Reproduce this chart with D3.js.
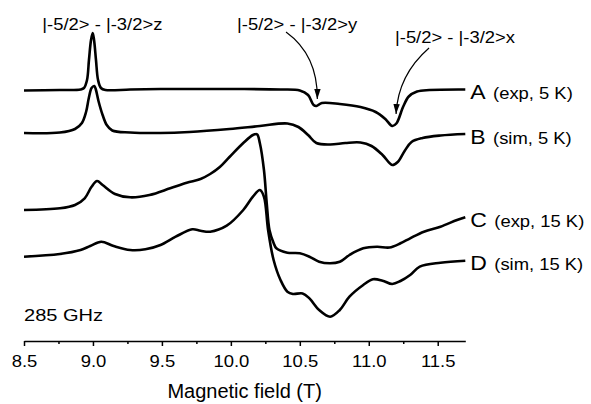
<!DOCTYPE html>
<html>
<head>
<meta charset="utf-8">
<script src="https://cdn.jsdelivr.net/npm/d3@7"></script>
<style>
  body { margin: 0; background: #fff; }
  text { font-family: "Liberation Sans", Arial, Helvetica, sans-serif; fill: #000; }
</style>
</head>
<body>
<svg id="chart" width="591" height="404"></svg>
<script>
// spectra: [field (T), signal (a.u.)], signal relative to each trace's own baseline
var specA = [[8.50,0],[8.76,0.05],[8.91,0.1],[8.935,0.25],[8.957,1.05],[8.971,3.05],[8.986,5.05],[8.998,5.75],
  [9.008,5.05],[9.022,3.05],[9.037,1.05],[9.058,0.25],[9.09,0.05],[9.27,0.1],[9.49,0.15],[9.78,0.15],[10.07,0.15],
  [10.36,0.1],[10.50,0],[10.56,-0.45],[10.60,-1.45],[10.62,-1.55],[10.66,-1.25],[10.79,-1.35],[10.94,-1.65],
  [11.05,-2.15],[11.12,-2.85],[11.17,-3.55],[11.20,-3.3],[11.25,-1.6],[11.29,-0.6],[11.35,-0.1],[11.44,0.05],[11.70,0.1]];

var specB = [[8.50,0],[8.76,0.05],[8.87,0.4],[8.92,1.0],[8.95,2.1],[8.97,3.5],[8.99,4.5],[9.01,4.7],[9.02,4.4],
  [9.04,3.2],[9.07,1.8],[9.10,0.8],[9.14,0.25],[9.27,0.05],[9.49,0],[9.70,0.1],[9.99,0.4],[10.21,0.7],[10.41,0.95],
  [10.49,0.6],[10.56,-0.2],[10.62,-1.0],[10.72,-1.15],[10.83,-1.0],[10.94,-0.95],[11.02,-1.3],[11.10,-2.2],
  [11.17,-3.2],[11.21,-2.9],[11.26,-1.8],[11.31,-0.9],[11.39,-0.5],[11.52,-0.25],[11.70,-0.1]];

var specC = [[8.50,0],[8.76,0.17],[8.87,0.5],[8.94,1.17],[8.99,2.33],[9.03,2.9],[9.07,2.5],[9.16,1.6],[9.27,1.27],
  [9.41,1.5],[9.56,2.17],[9.68,2.73],[9.78,3.1],[9.85,3.6],[9.92,4.3],[9.99,5.3],[10.09,6.7],[10.16,7.5],[10.19,7.57],
  [10.21,6.7],[10.24,4.0],[10.26,0.7],[10.28,-2.0],[10.31,-3.3],[10.33,-3.83],[10.41,-4.27],[10.50,-4.33],
  [10.57,-4.67],[10.64,-5.17],[10.72,-5.33],[10.79,-5.17],[10.86,-4.5],[10.96,-3.83],[11.06,-3.67],[11.15,-3.75],
  [11.23,-3.33],[11.30,-2.83],[11.40,-2.17],[11.52,-1.67],[11.64,-1.0],[11.70,-0.73]];

var specD = [[8.50,0],[8.76,0.27],[8.91,0.67],[8.98,1.07],[9.06,1.5],[9.15,1.07],[9.27,0.67],[9.38,0.74],[9.49,1.17],
  [9.60,2.0],[9.72,2.74],[9.78,2.6],[9.85,2.5],[9.97,3.1],[10.09,4.67],[10.16,6.0],[10.21,6.67],[10.24,6.0],
  [10.27,2.67],[10.31,-0.33],[10.36,-2.33],[10.41,-3.5],[10.45,-3.73],[10.52,-3.67],[10.57,-4.17],[10.64,-5.33],
  [10.72,-6.0],[10.79,-5.33],[10.86,-4.0],[10.96,-2.83],[11.03,-2.26],[11.10,-2.4],[11.17,-2.73],[11.23,-2.43],
  [11.30,-1.83],[11.37,-1.0],[11.52,-0.6],[11.70,-0.4]];

var seriesNames = ["A", "B", "C", "D"];
var seriesNotes = ["(exp, 5 K)", "(sim, 5 K)", "(exp, 15 K)", "(sim, 15 K)"];
var seriesOffsets = [24.95, 20.7, 13.0, 8.33];
var spectra = [specA, specB, specC, specD];

var majorTicks = [8.5, 9.0, 9.5, 10.0, 10.5, 11.0, 11.5];
var minorTicks = [8.75, 9.25, 9.75, 10.25, 10.75, 11.25];

// transition labels: text, text anchor [field, y], arrow [start, control, tip] or null
var transLabels = ["|-5/2> - |-3/2>z", "|-5/2> - |-3/2>y", "|-5/2> - |-3/2>x"];
var transAnchors = [[8.633, 31.0], [10.045, 31.0], [11.19, 29.7]];
var transArrows = [null,
  [[10.40, 30.8], [10.63, 28.5], [10.627, 24.1]],
  [[11.437, 29.2], [11.212, 26.5], [11.198, 22.6]]];

var svg = d3.select("#chart");

var x = d3.scaleLinear()
    .domain([8.5, 11.7])
    .range([24, 465.3]);

var y = d3.scaleLinear()
    .domain([0, 34])
    .range([340, 0]);

function stretched(sel, px, py, str, size, sx) {
  return sel.append("text")
      .attr("transform", "translate(" + px + "," + py + ") scale(" + sx + ",1)")
      .style("font-size", size + "px")
      .text(str);
}

// x axis
var axisY = 341;
svg.append("g")
    .attr("transform", "translate(0," + axisY + ")")
    .call(d3.axisBottom(x).tickValues(minorTicks).tickSize(3).tickFormat(""))
    .call(function(g) { g.select(".domain").remove(); })
    .selectAll("line").attr("stroke", "#000").attr("stroke-width", 1.5);

var xAxis = svg.append("g")
    .attr("transform", "translate(0," + axisY + ")")
    .call(d3.axisBottom(x).tickValues(majorTicks).tickSize(5).tickSizeOuter(0)
      .tickFormat(d3.format(".1f")));

xAxis.select(".domain").attr("stroke", "#000").attr("stroke-width", 1.5);
xAxis.selectAll("line").attr("stroke", "#000").attr("stroke-width", 1.5);
xAxis.selectAll("text")
    .attr("y", 25.7).attr("dy", 0)
    .attr("transform", "scale(1.12,1)")
    .style("font-size", "16.5px")
    .attr("fill", "#000");

svg.append("text")
    .attr("x", (x.range()[0] + x.range()[1]) / 2)
    .attr("y", 398)
    .attr("text-anchor", "middle")
    .style("font-size", "20px")
    .text("Magnetic field (T)");

// spectra
var line = d3.line()
    .x(function(d) { return x(d[0]); })
    .y(function(d) { return y(d[1]); })
    .curve(d3.curveCatmullRom.alpha(0.5));

spectra.forEach(function(spec, i) {
  var off = seriesOffsets[i];
  var pts = spec.map(function(d) { return [d[0], d[1] + off]; });
  svg.append("path")
      .datum(pts)
      .attr("fill", "none")
      .attr("stroke", "#000")
      .attr("stroke-width", 2.6)
      .attr("stroke-linejoin", "round")
      .attr("d", line);

  var last = pts[pts.length - 1];
  var t = svg.append("text")
      .attr("transform", "translate(" + (x(last[0]) + 5) + "," + (y(last[1]) + 9.5) + ") scale(1.15,1)")
      .style("font-size", "20px")
      .text(seriesNames[i]);
  t.append("tspan")
      .attr("dx", 2)
      .style("font-size", "16px")
      .text(" " + seriesNotes[i]);
});

// transition annotations
svg.append("defs").append("marker")
    .attr("id", "head")
    .attr("viewBox", "0 -4 10 8")
    .attr("refX", 10).attr("refY", 0)
    .attr("markerWidth", 10).attr("markerHeight", 8)
    .attr("markerUnits", "userSpaceOnUse")
    .attr("orient", "auto")
  .append("path")
    .attr("d", "M0,-3.2L10,0L0,3.2Z")
    .attr("fill", "#000");

transLabels.forEach(function(label, i) {
  var a = transAnchors[i];
  stretched(svg, x(a[0]), y(a[1]), label, 16.3, 1.13);
  var arr = transArrows[i];
  if (arr) {
    var p = d3.path();
    p.moveTo(x(arr[0][0]), y(arr[0][1]));
    p.quadraticCurveTo(x(arr[1][0]), y(arr[1][1]), x(arr[2][0]), y(arr[2][1]));
    svg.append("path")
        .attr("d", p.toString())
        .attr("fill", "none")
        .attr("stroke", "#000")
        .attr("stroke-width", 1.2)
        .attr("marker-end", "url(#head)");
  }
});

stretched(svg, x(8.5), y(1.93), "285 GHz", 17, 1.18);
</script>
</body>
</html>
